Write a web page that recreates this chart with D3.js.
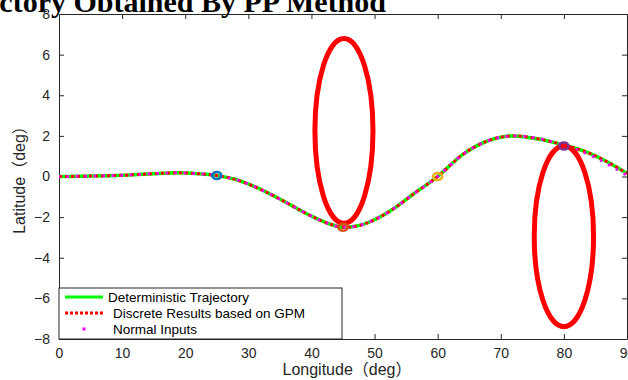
<!DOCTYPE html>
<html>
<head>
<meta charset="utf-8">
<script src="https://cdn.jsdelivr.net/npm/d3@7"></script>
<style>
  body { margin: 0; background: #fff; }
  svg { display: block; }
  .tick text { font-family: "Liberation Sans", Arial, sans-serif; font-size: 14px; fill: #262626; }
</style>
</head>
<body>
<div id="chart"></div>
<script>
// trajectory samples (longitude, latitude in deg)
const lonPts = [0, 5, 10, 15, 19, 22, 25, 28, 31, 34, 37, 40, 43, 45, 47, 50, 53, 56, 60, 64, 68, 72, 76, 80, 84, 87, 90];
const detLat = [0, 0.02, 0.06, 0.14, 0.18, 0.14, 0.05, -0.15, -0.5, -0.95, -1.45, -1.95, -2.35, -2.5, -2.45, -2.13, -1.59, -0.9, 0, 1.09, 1.76, 2.0, 1.85, 1.55, 1.15, 0.7, 0.15];
const gpmLat = [0, 0.02, 0.06, 0.14, 0.18, 0.14, 0.05, -0.15, -0.5, -0.95, -1.45, -1.95, -2.35, -2.5, -2.45, -2.13, -1.59, -0.9, 0, 1.09, 1.76, 2.0, 1.85, 1.55, 1.15, 0.7, 0.15];
const normLat = [0, 0.02, 0.06, 0.14, 0.18, 0.14, 0.05, -0.15, -0.5, -0.95, -1.45, -1.95, -2.35, -2.5, -2.45, -2.13, -1.59, -0.9, 0, 1.09, 1.76, 2.0, 1.87, 1.53, 1.08, 0.6, 0.05];

// discrete points and their uncertainty ellipses
const markLon = [25, 45, 60, 80];
const markLat = [0.05, -2.5, 0, 1.5];
const markColor = ["#0072BD", "#D95319", "#EDB120", "#7E2F8E"];
const ellLon = [45.15, 80];
const ellLat = [2.25, -2.95];
const ellRx = [4.6, 4.7];
const ellRy = [4.55, 4.45];

const xTicks = [0, 10, 20, 30, 40, 50, 60, 70, 80, 90];
const yTicks = [-8, -6, -4, -2, 0, 2, 4, 6, 8];
const legendLabels = ["Deterministic Trajectory", "Discrete Results based on GPM", "Normal Inputs"];

const W = 628, H = 380;
const margin = {left: 59, right: 1, top: 14, bottom: 41};
const width = W - margin.left - margin.right;
const height = H - margin.top - margin.bottom;

const svg = d3.select("#chart").append("svg")
  .attr("width", W).attr("height", H);

// title, mostly cut off at the top
svg.append("text")
  .attr("x", 386).attr("y", 12)
  .attr("text-anchor", "end")
  .style("font-family", "'Liberation Serif', 'Times New Roman', serif")
  .style("font-weight", "bold")
  .style("font-size", "30px")
  .attr("fill", "#000")
  .text("Trajectory Obtained By PP Method");

const g = svg.append("g")
  .attr("transform", "translate(" + margin.left + "," + margin.top + ")");

const x = d3.scaleLinear().domain([0, 90]).range([0, width]);
const y = d3.scaleLinear().domain([-8, 8]).range([height, 0]);

g.append("clipPath").attr("id", "clip")
  .append("rect").attr("width", width).attr("height", height);

// axes with inward ticks, box on all sides
g.append("g").attr("transform", "translate(0," + height + ")")
  .call(d3.axisBottom(x).tickValues(xTicks).tickSizeInner(-5).tickSizeOuter(0).tickPadding(9));
g.append("g")
  .call(d3.axisLeft(y).tickValues(yTicks).tickSizeInner(-5).tickSizeOuter(0).tickPadding(9));
g.append("g")
  .call(d3.axisTop(x).tickValues(xTicks).tickSizeInner(-5).tickSizeOuter(0).tickFormat(""));
g.append("g").attr("transform", "translate(" + width + ",0)")
  .call(d3.axisRight(y).tickValues(yTicks).tickSizeInner(-5).tickSizeOuter(0).tickFormat(""));
g.selectAll(".domain, .tick line").attr("stroke", "#262626").attr("stroke-width", 1);

const plot = g.append("g").attr("clip-path", "url(#clip)");

const line = d3.line()
  .x(d => x(d[0])).y(d => y(d[1]))
  .curve(d3.curveMonotoneX);

plot.append("path")
  .datum(lonPts.map((l, i) => [l, detLat[i]]))
  .attr("d", line).attr("fill", "none")
  .attr("stroke", "#00ff00").attr("stroke-width", 3.5);

plot.append("path")
  .datum(lonPts.map((l, i) => [l, gpmLat[i]]))
  .attr("d", line).attr("fill", "none")
  .attr("stroke", "#ff0000").attr("stroke-width", 3)
  .attr("stroke-dasharray", "3,3");

plot.append("path")
  .datum(lonPts.map((l, i) => [l, normLat[i]]))
  .attr("d", line).attr("fill", "none")
  .attr("stroke", "#ff00ff").attr("stroke-width", 3)
  .attr("stroke-dasharray", "2.5,6.5").attr("stroke-dashoffset", 1.5);

// uncertainty ellipses
plot.selectAll("ellipse.unc")
  .data(ellLon)
  .enter().append("ellipse")
  .attr("class", "unc")
  .attr("cx", d => x(d))
  .attr("cy", (d, i) => y(ellLat[i]))
  .attr("rx", (d, i) => x(d + ellRx[i]) - x(d))
  .attr("ry", (d, i) => y(0) - y(ellRy[i]))
  .attr("fill", "none").attr("stroke", "#ff0000").attr("stroke-width", 5);

// discrete point markers
plot.selectAll("ellipse.mk")
  .data(markLon)
  .enter().append("ellipse")
  .attr("class", "mk")
  .attr("cx", d => x(d))
  .attr("cy", (d, i) => y(markLat[i]))
  .attr("rx", 4.5).attr("ry", 3.5)
  .attr("fill", "none")
  .attr("stroke", (d, i) => markColor[i]).attr("stroke-width", 2.5);

// legend
const lg = g.append("g").attr("transform", "translate(0," + (height - 51) + ")");
lg.append("rect").attr("x", 0).attr("y", 0).attr("width", 283).attr("height", 51)
  .attr("fill", "#fff").attr("stroke", "#262626").attr("stroke-width", 1);
lg.append("line").attr("x1", 6).attr("x2", 44).attr("y1", 9).attr("y2", 9)
  .attr("stroke", "#00ff00").attr("stroke-width", 3);
lg.append("line").attr("x1", 6).attr("x2", 44).attr("y1", 25).attr("y2", 25)
  .attr("stroke", "#ff0000").attr("stroke-width", 3).attr("stroke-dasharray", "3,2");
lg.append("rect").attr("x", 23.5).attr("y", 39.5).attr("width", 3).attr("height", 3)
  .attr("fill", "#ff00ff");
lg.selectAll("text.lab")
  .data(legendLabels)
  .enter().append("text")
  .attr("class", "lab")
  .attr("x", (d, i) => i === 0 ? 49 : 54)
  .attr("y", (d, i) => 14 + i * 16)
  .style("font-family", "'Liberation Sans', Arial, sans-serif")
  .style("font-size", "13.5px")
  .attr("fill", "#000")
  .text(d => d);

// axis labels
svg.append("text")
  .attr("x", 347).attr("y", 375)
  .attr("text-anchor", "middle")
  .style("font-family", "'Liberation Sans', Arial, 'Noto Sans CJK SC', sans-serif")
  .style("font-size", "16px").attr("fill", "#262626")
  .text("Longitude（deg）");
svg.append("text")
  .attr("transform", "translate(25,176) rotate(-90)")
  .attr("text-anchor", "middle")
  .style("font-family", "'Liberation Sans', Arial, 'Noto Sans CJK SC', sans-serif")
  .style("font-size", "16px").attr("fill", "#262626")
  .text("Latitude（deg）");
</script>
</body>
</html>
